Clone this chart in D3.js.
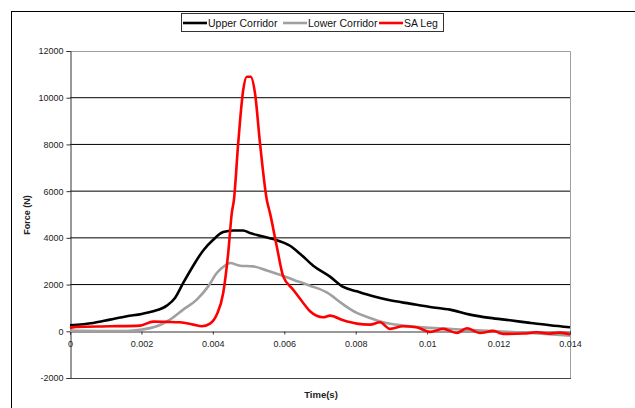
<!DOCTYPE html>
<html>
<head>
<meta charset="utf-8">
<script src="https://cdn.jsdelivr.net/npm/d3@7"></script>
<style>
  body { margin: 0; background: #fff; }
  svg { display: block; font-family: "Liberation Sans", Arial, sans-serif; }
</style>
</head>
<body>
<svg width="635" height="408"></svg>
<script>
// series: [time (s), force (N)]
const upperCorridor = [
  [0, 256], [0.00065, 358], [0.00112, 500], [0.00159, 641], [0.00201, 743],
  [0.00233, 855], [0.00271, 1098], [0.00294, 1427], [0.00317, 2068], [0.00345, 2808],
  [0.00373, 3462], [0.00401, 3919], [0.00429, 4248], [0.00457, 4317], [0.00485, 4317],
  [0.00504, 4205], [0.00532, 4090], [0.00569, 3949], [0.00616, 3663], [0.00644, 3321],
  [0.00681, 2808], [0.00728, 2340], [0.00765, 1900], [0.00803, 1710], [0.00849, 1496],
  [0.00896, 1325], [0.00952, 1184], [0.01008, 1043], [0.01064, 927], [0.0112, 714],
  [0.01176, 573], [0.01232, 470], [0.01288, 359], [0.01344, 256], [0.014, 171]
];
const lowerCorridor = [
  [0, 30], [0.0008, 15], [0.00159, 15], [0.00201, 73], [0.00243, 214],
  [0.0028, 500], [0.00317, 927], [0.00355, 1355], [0.00387, 1923], [0.00411, 2496],
  [0.00434, 2808], [0.00448, 2923], [0.00476, 2808], [0.00513, 2780], [0.00551, 2607],
  [0.00588, 2423], [0.00625, 2210], [0.00672, 1953], [0.00719, 1667], [0.00765, 1150],
  [0.00803, 786], [0.0084, 573], [0.00877, 385], [0.00933, 244], [0.01008, 145],
  [0.01101, 73], [0.01195, 0], [0.01288, -71], [0.014, -184]
];
const saLeg = [
  [0, 145], [0.00019, 188], [0.00112, 214], [0.00196, 244], [0.00233, 415],
  [0.00271, 402], [0.00308, 385], [0.00345, 286], [0.00369, 214], [0.00392, 329],
  [0.00411, 714], [0.00429, 1641], [0.00443, 3351], [0.00453, 5060], [0.00459, 5629],
  [0.00471, 8052], [0.00485, 10330], [0.00495, 10898], [0.00506, 10898], [0.00518, 10189],
  [0.00532, 8052], [0.00551, 5629], [0.0056, 5060], [0.00579, 3633], [0.00597, 2351],
  [0.00625, 1782], [0.00653, 1214], [0.00672, 855], [0.00709, 598], [0.00728, 671],
  [0.00765, 470], [0.00803, 329], [0.0084, 286], [0.00868, 385], [0.00896, 103],
  [0.00933, 214], [0.0097, 171], [0.01008, -26], [0.01045, 103], [0.01083, -71],
  [0.01111, 128], [0.01148, -71], [0.01185, 17], [0.01213, -111], [0.0127, -98],
  [0.01307, -43], [0.01344, -98], [0.01372, -56], [0.014, -128]
];
const seriesNames = ['Upper Corridor', 'Lower Corridor', 'SA Leg'];
const seriesColors = ['#000000', '#a0a0a0', '#ff0000'];
const xTicks = [0, 0.002, 0.004, 0.006, 0.008, 0.01, 0.012, 0.014];
const yTicks = [-2000, 0, 2000, 4000, 6000, 8000, 10000, 12000];

const svg = d3.select('svg');
const PLOT = { LEFT: 70, RIGHT: 570, TOP: 51, BOTTOM: 378 };

// outer chart frame (cropped on the right and bottom)
svg.append('rect')
  .attr('x', 11.5).attr('y', 11.5)
  .attr('width', 700).attr('height', 500)
  .attr('fill', 'none').attr('stroke', '#000');

const x = d3.scaleLinear().domain([0, 0.014]).range([PLOT.LEFT, PLOT.RIGHT]);
const y = d3.scaleLinear().domain([-2000, 12000]).range([PLOT.BOTTOM, PLOT.TOP]);

// gridlines
svg.append('g')
  .selectAll('line')
  .data(yTicks.filter(d => d > 0 && d < 12000))
  .enter()
  .append('line')
  .attr('x1', PLOT.LEFT).attr('x2', PLOT.RIGHT)
  .attr('y1', d => y(d)).attr('y2', d => y(d))
  .attr('stroke', '#000').attr('stroke-width', 1);

// plot area border: top/right grey, bottom darker
svg.append('path')
  .attr('d', `M${PLOT.LEFT},${PLOT.TOP + 0.5}H${PLOT.RIGHT + 0.5}V${PLOT.BOTTOM}`)
  .attr('fill', 'none').attr('stroke', '#a0a0a0');
svg.append('line')
  .attr('x1', PLOT.LEFT).attr('x2', PLOT.RIGHT + 1)
  .attr('y1', PLOT.BOTTOM + 0.5).attr('y2', PLOT.BOTTOM + 0.5)
  .attr('stroke', '#444');

// y axis
const yAxis = svg.append('g')
  .attr('transform', `translate(${PLOT.LEFT + 0.5},0)`)
  .call(d3.axisLeft(y).tickValues(yTicks).tickSize(4).tickPadding(3).tickFormat(d => String(d)));
yAxis.select('.domain').attr('stroke', '#333');
yAxis.selectAll('.tick line').attr('stroke', '#333');
yAxis.selectAll('text').attr('font-size', 9).attr('fill', '#222').attr('font-family', '"Liberation Sans", Arial, sans-serif');

// x axis sits on the zero line
const xAxis = svg.append('g')
  .attr('transform', `translate(0,${Math.round(y(0)) + 0.5})`)
  .call(d3.axisBottom(x).tickValues(xTicks).tickSize(3).tickPadding(6).tickFormat(d => d === 0 ? '0' : String(+d.toFixed(3))));
xAxis.select('.domain').attr('stroke', '#333');
xAxis.selectAll('.tick line').attr('stroke', '#333');
xAxis.selectAll('text').attr('font-size', 9).attr('fill', '#222').attr('font-family', '"Liberation Sans", Arial, sans-serif');

// axis titles
svg.append('text')
  .attr('x', 321).attr('y', 398)
  .attr('text-anchor', 'middle')
  .attr('font-size', 9.5).attr('font-weight', 'bold').attr('fill', '#222')
  .text('Time(s)');
svg.append('text')
  .attr('transform', 'translate(30,215) rotate(-90)')
  .attr('text-anchor', 'middle')
  .attr('font-size', 9).attr('font-weight', 'bold').attr('fill', '#222')
  .text('Force (N)');

// series lines
const line = d3.line()
  .x(d => x(d[0]))
  .y(d => y(d[1]))
  .curve(d3.curveMonotoneX);

[upperCorridor, lowerCorridor, saLeg].forEach((data, i) => {
  svg.append('path')
    .datum(data)
    .attr('fill', 'none')
    .attr('stroke', seriesColors[i])
    .attr('stroke-width', 2.6)
    .attr('stroke-linejoin', 'round')
    .attr('d', line);
});

// legend
const legend = svg.append('g');
legend.append('rect')
  .attr('x', 181.5).attr('y', 13.5)
  .attr('width', 262).attr('height', 18)
  .attr('fill', '#fff').attr('stroke', '#333');
const legendX = [183, 283, 379];
seriesNames.forEach((name, i) => {
  legend.append('line')
    .attr('x1', legendX[i]).attr('x2', legendX[i] + 24)
    .attr('y1', 23).attr('y2', 23)
    .attr('stroke', seriesColors[i]).attr('stroke-width', 2.6);
  legend.append('text')
    .attr('x', legendX[i] + 25).attr('y', 26.5)
    .attr('font-size', 10.5).attr('fill', '#111')
    .text(name);
});
</script>
</body>
</html>
